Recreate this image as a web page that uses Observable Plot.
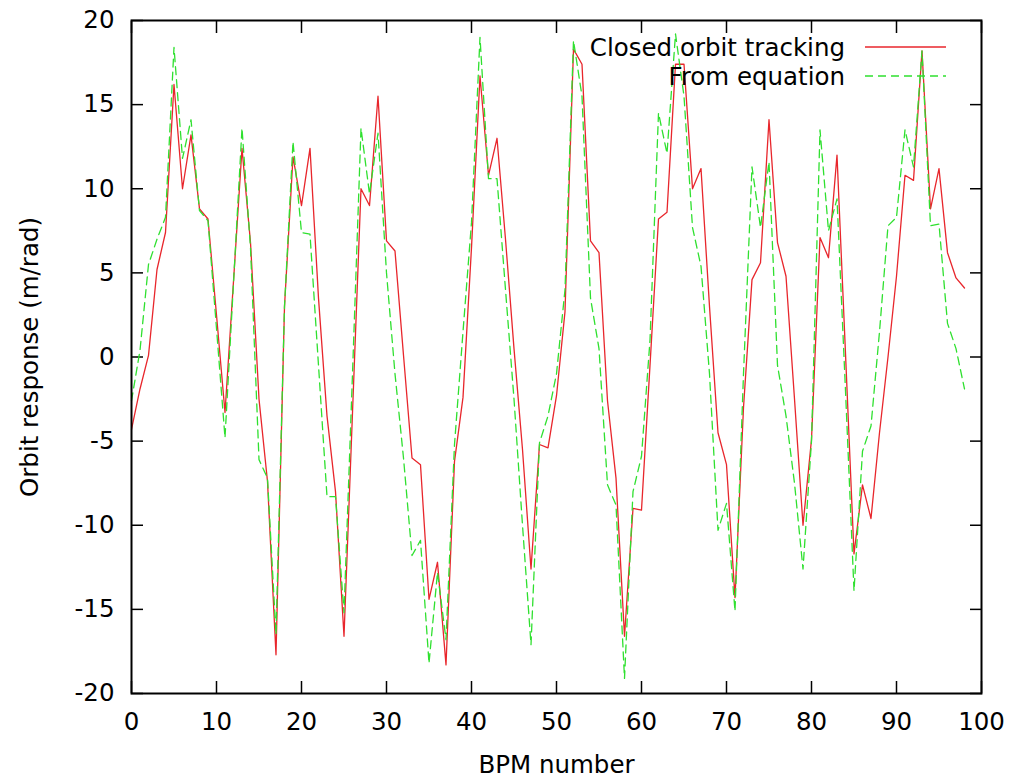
<!DOCTYPE html>
<html><head><meta charset="utf-8">
<script src="https://cdn.jsdelivr.net/npm/d3@7"></script>
<script src="https://cdn.jsdelivr.net/npm/@observablehq/plot@0.6"></script>
<style>
html,body{margin:0;padding:0;background:#fff;}
#wrap{position:relative;width:1014px;height:780px;font-family:"DejaVu Sans",sans-serif;}
#legend{position:absolute;left:0;top:0;pointer-events:none;}
</style></head><body><div id="wrap"></div>
<script>
// Series values (m/rad), one per BPM 0..98
const tracking = [
 -4.3, -1.9, 0.1, 5.2, 7.4, 16.2, 10.0, 13.2, 8.8, 8.2,
  2.5, -3.3, 4.5, 12.4, 6.8, -2.5, -7.4, -17.7, 3.0, 11.9,
  9.0, 12.4, 3.5, -3.5, -8.0, -16.6, -3.3, 10.0, 9.0, 15.5,
  6.9, 6.3, 0.1, -6.0, -6.4, -14.4, -12.2, -18.3, -6.2, -2.4,
  6.5, 16.7, 10.8, 13.0, 7.0, 0.5, -5.5, -12.6, -5.2, -5.4,
 -2.3, 2.7, 18.3, 17.4, 6.9, 6.2, -2.6, -7.2, -16.6, -9.0,
 -9.1, -0.5, 8.2, 8.6, 17.4, 17.4, 10.0, 11.2, 3.0, -4.5,
 -6.4, -14.3, -3.0, 4.6, 5.6, 14.1, 6.8, 4.8, -2.5, -10.0,
 -4.9, 7.1, 5.9, 12.0, 0.2, -11.7, -7.6, -9.6, -4.5, 0.0,
  4.8, 10.8, 10.5, 18.2, 8.8, 11.2, 6.2, 4.7, 4.1
];
const equation = [
 -2.6, 0.4, 5.5, 7.0, 8.3, 18.4, 11.8, 14.1, 8.7, 8.1,
  1.7, -4.8, 4.4, 13.6, 6.5, -6.1, -7.2, -16.5, 3.0, 12.8,
  7.4, 7.3, -0.5, -8.3, -8.3, -15.2, -1.0, 13.6, 9.7, 13.3,
  5.0, -1.0, -6.0, -11.8, -10.9, -18.2, -12.8, -16.8, -5.2, 1.5,
  8.0, 19.0, 10.6, 10.6, 4.0, -2.5, -10.0, -17.1, -5.1, -3.5,
 -1.0, 4.0, 18.8, 15.5, 3.5, 0.5, -7.6, -8.8, -19.1, -8.0,
 -5.9, 1.0, 14.5, 12.1, 19.2, 15.5, 7.7, 5.4, -1.0, -10.3,
 -8.7, -15.1, -1.0, 11.3, 7.7, 11.6, -0.5, -3.5, -7.5, -12.6,
 -5.0, 13.5, 7.5, 9.4, -2.0, -13.9, -5.6, -4.1, 1.5, 7.8,
  8.3, 13.5, 11.3, 18.2, 7.8, 7.9, 2.0, 0.5, -1.9
];
const seriesNames = ["Closed orbit tracking", "From equation"];
const xTicks = [0, 10, 20, 30, 40, 50, 60, 70, 80, 90, 100];
const yTicks = [-20, -15, -10, -5, 0, 5, 10, 15, 20];
const xLabel = "BPM number";
const yLabel = "Orbit response (m/rad)";

const RED = "#e8262c";
const GREEN = "#2fe02f";
const DASH = "8,5";
const FONT = "'DejaVu Sans', sans-serif";
const FS = 24.5;

const rowsTracking = tracking.map((v, i) => ({bpm: i, value: v}));
const rowsEquation = equation.map((v, i) => ({bpm: i, value: v}));
const fmt = d => String(d);

const chart = Plot.plot({
  width: 1014, height: 780,
  marginLeft: 131, marginRight: 33, marginTop: 20, marginBottom: 87,
  style: {fontFamily: FONT, fontSize: FS + "px", background: "#fff", color: "#000"},
  x: {domain: [0, 100]},
  y: {domain: [-20, 20]},
  marks: [
    Plot.axisX(xTicks, {anchor: "bottom", tickSize: 0, tickPadding: 19, tickFormat: fmt, fontSize: FS,
      label: xLabel, labelAnchor: "center", labelArrow: "none", labelOffset: 79}),
    Plot.axisX(xTicks, {anchor: "bottom", tickSize: -12, fill: "none", label: null, strokeWidth: 1.5}),
    Plot.axisX(xTicks, {anchor: "top", tickSize: -12, fill: "none", label: null, strokeWidth: 1.5}),
    Plot.axisY(yTicks, {anchor: "left", tickSize: 0, tickPadding: 17, tickFormat: fmt, fontSize: FS,
      label: yLabel, labelAnchor: "center", labelArrow: "none", labelOffset: 111}),
    Plot.axisY(yTicks, {anchor: "left", tickSize: -12, fill: "none", label: null, strokeWidth: 1.5}),
    Plot.axisY(yTicks, {anchor: "right", tickSize: -12, fill: "none", label: null, strokeWidth: 1.5}),
    Plot.line(rowsTracking, {x: "bpm", y: "value", stroke: RED, strokeWidth: 1.3}),
    Plot.line(rowsEquation, {x: "bpm", y: "value", stroke: GREEN, strokeWidth: 1.3, strokeDasharray: DASH}),
    Plot.frame({stroke: "#000", strokeWidth: 2})
  ]
});
const wrap = document.getElementById("wrap");
wrap.appendChild(chart);

// Legend (top right, inside the frame, gnuplot style)
const ns = "http://www.w3.org/2000/svg";
const leg = document.createElementNS(ns, "svg");
leg.setAttribute("id", "legend");
leg.setAttribute("width", 1014);
leg.setAttribute("height", 120);
const legendItems = [
  {name: seriesNames[0], color: RED, dash: null, y: 47},
  {name: seriesNames[1], color: GREEN, dash: DASH, y: 76}
];
legendItems.forEach(it => {
  const t = document.createElementNS(ns, "text");
  t.setAttribute("x", 845);
  t.setAttribute("y", it.y);
  t.setAttribute("dy", "0.35em");
  t.setAttribute("text-anchor", "end");
  t.setAttribute("font-size", FS);
  t.setAttribute("font-family", FONT);
  t.setAttribute("fill", "#000");
  t.textContent = it.name;
  leg.appendChild(t);
  const l = document.createElementNS(ns, "line");
  l.setAttribute("x1", 865); l.setAttribute("x2", 946);
  l.setAttribute("y1", it.y); l.setAttribute("y2", it.y);
  l.setAttribute("stroke", it.color);
  l.setAttribute("stroke-width", 1.3);
  if (it.dash) l.setAttribute("stroke-dasharray", it.dash);
  leg.appendChild(l);
});
wrap.appendChild(leg);
</script>
</body></html>
